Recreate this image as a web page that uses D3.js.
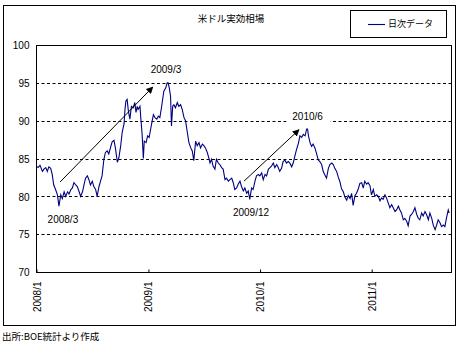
<!DOCTYPE html>
<html><head><meta charset="utf-8">
<script src="https://cdn.jsdelivr.net/npm/d3@7"></script>
<style>body{margin:0;background:#fff}svg{display:block}</style>
</head><body>
<script>
const dates = ["2008-01-02","2008-01-08","2008-01-14","2008-01-22","2008-01-27","2008-02-02","2008-02-07","2008-02-12","2008-02-18","2008-02-23","2008-02-28","2008-03-05","2008-03-11","2008-03-14","2008-03-16","2008-03-22","2008-03-27","2008-04-02","2008-04-07","2008-04-13","2008-04-18","2008-04-24","2008-04-29","2008-05-04","2008-05-10","2008-05-15","2008-05-21","2008-05-26","2008-06-01","2008-06-06","2008-06-11","2008-06-17","2008-06-22","2008-06-27","2008-07-03","2008-07-08","2008-07-14","2008-07-19","2008-07-25","2008-07-30","2008-08-04","2008-08-10","2008-08-15","2008-08-21","2008-08-26","2008-09-01","2008-09-06","2008-09-12","2008-09-17","2008-09-23","2008-09-28","2008-10-04","2008-10-09","2008-10-15","2008-10-18","2008-10-21","2008-10-25","2008-10-29","2008-11-03","2008-11-08","2008-11-14","2008-11-19","2008-11-23","2008-11-27","2008-11-30","2008-12-06","2008-12-09","2008-12-13","2008-12-17","2008-12-20","2008-12-26","2008-12-31","2009-01-05","2009-01-10","2009-01-15","2009-01-19","2009-01-24","2009-01-30","2009-02-04","2009-02-09","2009-02-15","2009-02-18","2009-02-22","2009-02-28","2009-03-05","2009-03-08","2009-03-12","2009-03-16","2009-03-19","2009-03-23","2009-03-27","2009-04-01","2009-04-07","2009-04-12","2009-04-18","2009-04-23","2009-04-29","2009-05-04","2009-05-10","2009-05-15","2009-05-21","2009-05-26","2009-05-31","2009-06-06","2009-06-11","2009-06-17","2009-06-22","2009-06-28","2009-07-03","2009-07-08","2009-07-14","2009-07-19","2009-07-23","2009-07-28","2009-08-02","2009-08-08","2009-08-13","2009-08-19","2009-08-24","2009-08-30","2009-09-04","2009-09-10","2009-09-15","2009-09-21","2009-09-26","2009-10-02","2009-10-07","2009-10-12","2009-10-18","2009-10-23","2009-10-29","2009-11-03","2009-11-09","2009-11-14","2009-11-20","2009-11-25","2009-11-30","2009-12-06","2009-12-11","2009-12-17","2009-12-22","2009-12-28","2010-01-02","2010-01-08","2010-01-13","2010-01-19","2010-01-24","2010-01-30","2010-02-04","2010-02-09","2010-02-15","2010-02-20","2010-02-26","2010-03-03","2010-03-08","2010-03-14","2010-03-19","2010-03-25","2010-03-30","2010-04-05","2010-04-10","2010-04-16","2010-04-21","2010-04-27","2010-05-02","2010-05-08","2010-05-13","2010-05-19","2010-05-24","2010-05-30","2010-06-04","2010-06-07","2010-06-10","2010-06-15","2010-06-20","2010-06-25","2010-07-01","2010-07-06","2010-07-12","2010-07-17","2010-07-23","2010-07-28","2010-08-03","2010-08-08","2010-08-14","2010-08-19","2010-08-25","2010-08-30","2010-09-04","2010-09-10","2010-09-15","2010-09-21","2010-09-26","2010-10-02","2010-10-07","2010-10-13","2010-10-18","2010-10-24","2010-10-29","2010-11-03","2010-11-09","2010-11-14","2010-11-20","2010-11-25","2010-12-01","2010-12-06","2010-12-11","2010-12-17","2010-12-22","2010-12-28","2011-01-02","2011-01-08","2011-01-13","2011-01-19","2011-01-24","2011-01-30","2011-02-04","2011-02-09","2011-02-15","2011-02-20","2011-02-26","2011-03-03","2011-03-09","2011-03-14","2011-03-20","2011-03-25","2011-03-31","2011-04-05","2011-04-10","2011-04-16","2011-04-21","2011-04-27","2011-05-02","2011-05-08","2011-05-13","2011-05-19","2011-05-24","2011-05-30","2011-06-04","2011-06-09","2011-06-15","2011-06-20","2011-06-26","2011-07-01","2011-07-07","2011-07-12","2011-07-18","2011-07-23","2011-07-29","2011-08-03","2011-08-08","2011-08-14","2011-08-19","2011-08-25","2011-08-30","2011-09-04","2011-09-10","2011-09-13"];
const values = [84.0,83.8,84.1,83.3,83.6,83.8,83.3,83.9,83.7,82.9,81.5,80.9,80.2,79.3,78.7,80.2,79.7,80.6,80.0,80.6,80.3,80.9,81.1,81.8,81.5,81.3,80.6,80.0,80.6,81.5,82.4,82.7,82.2,81.5,82.0,81.3,80.9,80.0,81.3,82.0,82.7,84.9,85.8,86.0,85.6,86.5,87.2,87.4,86.3,84.5,85.1,86.7,88.5,89.6,91.5,92.6,92.8,91.3,90.2,91.9,91.7,92.4,91.1,91.9,91.5,91.9,90.2,88.2,85.0,87.3,87.1,88.0,87.8,88.9,90.0,90.8,90.4,90.2,90.6,90.4,91.9,92.8,93.9,94.3,95.0,95.0,94.3,93.2,89.3,91.9,92.1,91.7,92.4,91.9,92.1,91.5,90.4,90.0,88.4,87.1,86.4,86.0,84.7,87.3,86.7,87.1,86.4,86.9,86.7,86.4,85.8,85.1,84.4,84.9,84.0,83.6,84.9,84.4,84.2,83.8,83.6,82.2,82.4,82.0,82.2,82.4,81.8,80.9,81.1,81.6,82.0,81.3,80.7,81.1,80.4,80.7,79.6,81.1,80.9,82.0,82.7,82.9,82.7,83.1,82.2,82.9,82.7,83.6,83.8,84.0,84.4,83.8,84.2,83.8,83.3,83.7,84.6,84.8,84.4,84.6,84.4,83.9,84.4,85.4,86.2,87.0,88.0,87.8,88.2,88.0,88.9,88.9,88.0,87.1,86.6,86.9,86.4,85.7,84.8,84.6,84.2,83.3,82.8,82.4,83.7,84.2,84.4,84.2,83.7,83.3,82.6,81.9,81.0,80.6,79.9,79.5,80.1,79.7,80.4,78.8,80.1,80.4,81.0,81.7,81.8,81.1,82.0,81.6,81.8,81.4,80.2,80.9,80.0,80.2,80.0,79.4,79.8,79.6,80.2,79.8,79.1,78.5,78.9,78.5,78.0,78.2,78.7,78.2,77.8,76.9,77.1,76.7,76.1,77.4,77.6,78.0,78.5,77.6,77.1,76.9,77.8,77.4,78.0,77.6,76.9,77.8,77.1,76.2,75.6,76.2,76.9,76.5,76.0,76.2,76.0,77.1,78.2,77.8];
const yTicks = [70,75,80,85,90,95,100];
const gridValues = [75,80,85,90,95];
const xTickDates = ["2008-01-01","2009-01-01","2010-01-01","2011-01-01"];
const xTickLabels = ["2008/1","2009/1","2010/1","2011/1"];
const title = "米ドル実効相場";
const legendLabel = "日次データ";
const sourceNote = "出所:BOE統計より作成";
const annoLabels = ["2009/3","2008/3","2009/12","2010/6"];
const annoDates = ["2009-03-01","2008-03-29","2009-12-04","2010-06-07"];
const annoValues = [96.7,77.0,77.8,90.6];
const arrowFromDates = ["2008-03-20","2009-11-11"];
const arrowFromValues = [81.9,82.0];
const arrowToDates = ["2009-01-17","2010-05-10"];
const arrowToValues = [94.45,88.8];

const W=461,H=346;
const pl=36,pr=451,pt=45,pb=272;
const parse=d3.timeParse("%Y-%m-%d");
const num="'Liberation Sans', Arial, sans-serif";
const cjk="'Noto Sans CJK JP', sans-serif";

const svg=d3.select("body").append("svg").attr("width",W).attr("height",H);
svg.append("rect").attr("x",3.5).attr("y",5.5).attr("width",452).attr("height",320)
  .attr("fill","#fff").attr("stroke","#000").attr("stroke-width",1);

const x=d3.scaleTime().domain([parse("2008-01-01"),parse("2011-09-19")]).range([pl,pr]);
const y=d3.scaleLinear().domain([70,100]).range([pb,pt]);

// grid
svg.append("g").selectAll("line").data(gridValues).join("line")
  .attr("x1",pl).attr("x2",pr)
  .attr("y1",d=>Math.round(y(d))+0.5).attr("y2",d=>Math.round(y(d))+0.5)
  .attr("stroke","#000").attr("stroke-width",1).attr("stroke-dasharray","3,2.5");

// plot border
svg.append("rect").attr("x",pl+0.5).attr("y",pt+0.5).attr("width",pr-pl).attr("height",pb-pt)
  .attr("fill","none").attr("stroke","#000");

// y axis
const ya=svg.append("g").attr("transform",`translate(${pl+0.5},0.5)`)
  .call(d3.axisLeft(y).tickValues(yTicks).tickSize(0).tickPadding(7).tickFormat(d3.format("d")));
ya.select(".domain").remove();
ya.selectAll("text").attr("font-family",num).attr("font-size",10).attr("fill","#000");

// x axis
const xa=svg.append("g").attr("transform",`translate(0.5,${pb+0.5})`)
  .call(d3.axisBottom(x).tickValues(xTickDates.map(parse)).tickSizeInner(-3).tickSizeOuter(0)
    .tickFormat((d,i)=>xTickLabels[i]));
xa.select(".domain").remove();
xa.selectAll("line").attr("stroke","#000");
xa.selectAll("text").attr("font-family",num).attr("font-size",10).attr("fill","#000")
  .attr("transform","rotate(-90)").attr("text-anchor","end")
  .attr("x",-9).attr("y",0).attr("dy","0.35em");

// line
const data=dates.map((d,i)=>({date:parse(d),value:values[i]}));
svg.append("path").datum(data).attr("fill","none").attr("stroke","#000080").attr("stroke-width",1.1)
  .attr("stroke-linejoin","miter")
  .attr("d",d3.line().x(d=>x(d.date)).y(d=>y(d.value)));

// arrows
const defs=svg.append("defs");
defs.append("marker").attr("id","ah").attr("viewBox","0 0 10 10").attr("refX",9).attr("refY",5)
  .attr("markerWidth",7).attr("markerHeight",7).attr("markerUnits","userSpaceOnUse").attr("orient","auto")
  .append("path").attr("d","M0,0L10,5L0,10Z").attr("fill","#000");
arrowFromDates.forEach((d,i)=>{
  svg.append("line").attr("x1",x(parse(d))).attr("y1",y(arrowFromValues[i]))
    .attr("x2",x(parse(arrowToDates[i]))).attr("y2",y(arrowToValues[i]))
    .attr("stroke","#000").attr("stroke-width",1).attr("marker-end","url(#ah)");
});

// annotation labels
annoLabels.forEach((t,i)=>{
  const cx=x(parse(annoDates[i])), cy=y(annoValues[i]);
  if(t==="2010/6"){
    svg.append("rect").attr("x",cx-21).attr("y",cy-8).attr("width",44).attr("height",15).attr("fill","#fff");
  }
  svg.append("text").attr("x",cx).attr("y",cy).attr("dy","0.35em").attr("text-anchor","middle")
    .attr("font-family",num).attr("font-size",10).attr("fill","#000").text(t);
});

// title
svg.append("text").attr("x",231).attr("y",19).attr("dy","0.35em").attr("text-anchor","middle")
  .attr("font-family",cjk).attr("font-size",9.5).attr("fill","#000").text(title);

// legend
svg.append("rect").attr("x",350.5).attr("y",10.5).attr("width",96).attr("height",27)
  .attr("fill","#fff").attr("stroke","#000");
svg.append("line").attr("x1",368).attr("x2",385).attr("y1",24.5).attr("y2",24.5)
  .attr("stroke","#000080").attr("stroke-width",1.1);
svg.append("text").attr("x",388).attr("y",24).attr("dy","0.35em")
  .attr("font-family",cjk).attr("font-size",9).attr("fill","#000").text(legendLabel);

// source
svg.append("text").attr("x",2).attr("y",337).attr("dy","0.35em")
  .attr("font-family",cjk).attr("font-size",9.5).attr("fill","#000").text(sourceNote);
</script>
</body></html>
